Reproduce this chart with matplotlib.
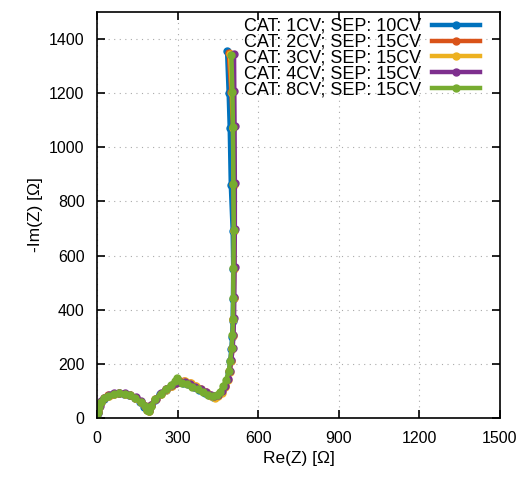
import matplotlib
matplotlib.use("Agg")
import matplotlib.pyplot as plt

plt.rcParams['font.family'] = ['Liberation Sans', 'DejaVu Sans']

# Re(Z) / -Im(Z) in ohm (high frequency first)
labels = ["CAT: 1CV; SEP: 10CV", "CAT: 2CV; SEP: 15CV", "CAT: 3CV; SEP: 15CV",
          "CAT: 4CV; SEP: 15CV", "CAT: 8CV; SEP: 15CV"]
colors = ["#0072BD", "#D95319", "#EDB120", "#7E2F8E", "#77AC30"]

re_1 = [0, 3, 8, 15, 25, 40, 60, 80, 100, 120, 140, 160, 175, 185, 192, 200, 215, 235, 255, 275,
        290, 305, 320, 340, 360, 380, 400, 418, 432, 447, 460, 472, 482, 490, 496, 500, 503, 505,
        506, 507, 505, 498, 494, 490, 484]
im_1 = [0, 20, 40, 58, 72, 82, 88, 92, 90, 84, 74, 58, 42, 30, 26, 45, 68, 88, 105, 118,
        128, 132, 131, 124, 114, 104, 94, 84, 78, 82, 95, 115, 140, 170, 210, 255, 300, 360,
        440, 550, 690, 860, 1070, 1200, 1355]
re_2 = [0, 3, 8, 15, 26, 42, 62, 82, 102, 122, 142, 162, 177, 186, 193, 201, 217, 237, 257, 277,
        292, 308, 325, 345, 365, 385, 405, 422, 436, 450, 463, 475, 485, 493, 499, 503, 506, 508,
        509, 510, 510, 508, 506, 500, 490]
im_2 = [0, 22, 42, 60, 74, 84, 90, 92, 90, 85, 75, 60, 44, 31, 27, 47, 70, 90, 106, 119,
        129, 135, 136, 128, 117, 106, 96, 86, 80, 84, 97, 117, 142, 172, 212, 258, 305, 365,
        445, 555, 695, 865, 1075, 1205, 1350]
re_3 = [0, 3, 8, 16, 27, 43, 63, 83, 103, 123, 143, 163, 178, 187, 194, 202, 218, 238, 258, 278,
        294, 310, 328, 348, 368, 388, 408, 425, 438, 452, 465, 477, 487, 494, 500, 504, 506, 508,
        509, 510, 511, 510, 508, 503, 495]
im_3 = [0, 21, 41, 59, 73, 83, 89, 91, 89, 84, 74, 59, 43, 30, 26, 46, 69, 89, 105, 118,
        128, 134, 138, 130, 118, 106, 94, 82, 75, 80, 94, 114, 140, 170, 210, 255, 302, 362,
        442, 552, 692, 862, 1072, 1202, 1345]
re_4 = [0, 3, 9, 16, 27, 43, 63, 83, 103, 123, 143, 163, 178, 187, 194, 202, 218, 238, 258, 278,
        293, 309, 326, 346, 366, 386, 406, 423, 437, 451, 464, 476, 486, 494, 500, 505, 508, 510,
        511, 512, 513, 513, 512, 511, 510]
im_4 = [0, 23, 43, 61, 75, 85, 91, 93, 91, 86, 76, 61, 45, 32, 28, 48, 72, 92, 108, 121,
        131, 134, 133, 126, 116, 106, 96, 86, 80, 85, 99, 119, 145, 175, 215, 260, 308, 368,
        448, 558, 698, 868, 1078, 1208, 1345]
re_5 = [0, 3, 8, 15, 26, 42, 62, 82, 102, 122, 142, 162, 177, 186, 193, 201, 217, 237, 257, 277,
        290, 298, 315, 335, 355, 375, 395, 414, 430, 445, 458, 470, 481, 490, 496, 501, 504, 506,
        507, 508, 509, 508, 506, 504, 500]
im_5 = [0, 21, 41, 59, 73, 83, 89, 91, 89, 84, 74, 59, 43, 30, 26, 46, 70, 90, 108, 122,
        135, 146, 130, 124, 116, 106, 96, 86, 80, 84, 97, 117, 142, 172, 212, 258, 305, 365,
        445, 555, 695, 865, 1075, 1205, 1340]

series_re = [re_1, re_2, re_3, re_4, re_5]
series_im = [im_1, im_2, im_3, im_4, im_5]

fig = plt.figure(figsize=(5.25, 4.78), dpi=100)
ax = fig.add_axes([0.185, 0.1255, 0.767, 0.8495])

for x, y, c, lab in zip(series_re, series_im, colors, labels):
    ax.plot(x, y, color=c, lw=3.2, marker='o', ms=5, label=lab)

ax.set_xlim(0, 1500)
ax.set_ylim(0, 1500)
ax.set_xticks(range(0, 1501, 300))
ax.set_yticks(range(0, 1401, 200))
ax.tick_params(direction='in', top=True, right=True, length=6, width=1.2, labelsize=11.5, pad=9)
ax.grid(True, linestyle=(0, (1, 4)), color='#aaaaaa', lw=0.8)
for s in ax.spines.values():
    s.set_linewidth(1.2)
ax.set_xlabel("Re(Z) [Ω]", fontsize=12.5)
ax.set_ylabel("-Im(Z) [Ω]", fontsize=12.5)

leg = ax.legend(loc='upper right', bbox_to_anchor=(0.97, 1.003), markerfirst=False, frameon=False,
                fontsize=13, handlelength=2.7, labelspacing=-0.06, borderaxespad=0.0,
                handletextpad=0.6)

fig.savefig("out.png", dpi=100)
